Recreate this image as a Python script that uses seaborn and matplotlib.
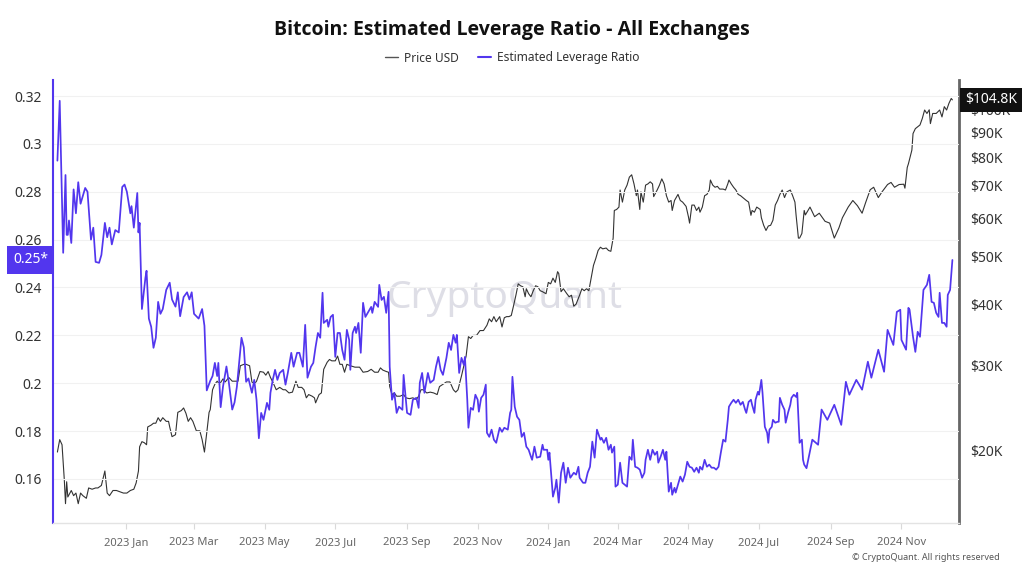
import numpy as np
import pandas as pd
import matplotlib
matplotlib.use("Agg")
import matplotlib.pyplot as plt
import matplotlib.dates as mdates
import matplotlib.transforms as mtransforms
from matplotlib.lines import Line2D
from matplotlib.ticker import FixedLocator, FuncFormatter, NullLocator
import seaborn as sns

# ---------------- data (days since 2023-01-01) ----------------
lev_day = [
    -59, -57, -54, -52, -51, -50, -49, -47, -45, -43,
    -41, -39, -35, -33, -30, -28, -26, -23, -21, -18,
    -16, -14, -12, -9, -6, -3, -1, 1, 4, 5,
    7, 10, 11, 12, 14, 17, 18, 20, 22, 24,
    26, 28, 30, 32, 35, 38, 40, 43, 45, 47,
    50, 53, 55, 57, 59, 63, 66, 68, 70, 73,
    75, 77, 79, 80, 82, 84, 87, 89, 92, 94,
    96, 100, 102, 104, 106, 109, 111, 113, 115, 117,
    119, 122, 124, 125, 127, 129, 131, 133, 136, 138,
    140, 143, 145, 148, 150, 153, 155, 157, 160, 162,
    164, 166, 168, 170, 171, 174, 175, 177, 179, 181,
    183, 185, 187, 189, 191, 193, 194, 196, 198, 199,
    201, 203, 205, 207, 209, 212, 213, 215, 218, 219,
    221, 223, 225, 227, 228, 230, 232, 234, 236, 239,
    240, 243, 246, 248, 251, 253, 254, 256, 258, 261,
    263, 266, 268, 270, 272, 274, 277, 279, 281, 283,
    285, 286, 288, 290, 292, 293, 295, 296, 298, 300,
    302, 304, 305, 307, 309, 311, 312, 314, 316, 318,
    320, 323, 325, 327, 330, 332, 333, 334, 336, 338,
    340, 342, 344, 346, 348, 350, 351, 353, 355, 358,
    360, 361, 364, 365, 366, 368, 369, 371, 372, 374,
    376, 378, 380, 382, 384, 387, 389, 391, 392, 395,
    397, 399, 401, 403, 405, 407, 410, 411, 413, 415,
    417, 419, 420, 422, 423, 425, 427, 429, 431, 433,
    435, 437, 438, 440, 442, 444, 446, 448, 449, 451,
    453, 455, 457, 459, 460, 462, 464, 466, 467, 469,
    471, 472, 474, 475, 477, 479, 481, 483, 485, 487,
    489, 491, 493, 495, 496, 498, 500, 502, 504, 506,
    508, 510, 512, 514, 516, 518, 520, 521, 523, 525,
    527, 529, 531, 533, 535, 536, 538, 540, 541, 543,
    544, 546, 547, 549, 550, 552, 554, 555, 556, 558,
    559, 561, 563, 564, 565, 567, 569, 570, 572, 574,
    575, 577, 579, 580, 582, 584, 585, 586, 588, 593,
    598, 601, 606, 612, 618, 622, 625, 631, 636, 641,
    644, 650, 655, 658, 663, 666, 669, 670, 674, 676,
    677, 680, 682, 684, 686, 689, 692, 694, 696, 698,
    700, 702, 703, 705, 707, 709, 710, 712, 714,
]
lev_val = [
    0.293, 0.318, 0.2545, 0.287, 0.262, 0.262, 0.268, 0.2586, 0.281, 0.271,
    0.284, 0.275, 0.2816, 0.280, 0.260, 0.265, 0.2507, 0.2503, 0.2536, 0.267,
    0.261, 0.265, 0.258, 0.264, 0.263, 0.282, 0.283, 0.280, 0.271, 0.274,
    0.265, 0.2795, 0.263, 0.267, 0.231, 0.244, 0.247, 0.227, 0.2236, 0.2148,
    0.219, 0.234, 0.229, 0.231, 0.239, 0.242, 0.235, 0.232, 0.238, 0.228,
    0.236, 0.238, 0.235, 0.238, 0.229, 0.227, 0.231, 0.224, 0.197, 0.201,
    0.203, 0.2085, 0.203, 0.2085, 0.190, 0.1985, 0.207, 0.2006, 0.189, 0.192,
    0.1985, 0.219, 0.215, 0.2006, 0.202, 0.196, 0.2014, 0.193, 0.177, 0.1876,
    0.1847, 0.1918, 0.1889, 0.196, 0.2014, 0.2056, 0.2014, 0.2043, 0.2056, 0.1994,
    0.2043, 0.2127, 0.2069, 0.2127, 0.2127, 0.2069, 0.2244, 0.2023, 0.2069, 0.2085,
    0.2152, 0.221, 0.219, 0.2378, 0.2252, 0.2265, 0.2236, 0.2277, 0.2286, 0.211,
    0.221, 0.221, 0.2139, 0.2098, 0.2223, 0.2181, 0.2056, 0.221, 0.2236, 0.221,
    0.2252, 0.2127, 0.2336, 0.2277, 0.2294, 0.2319, 0.2294, 0.234, 0.2319, 0.2411,
    0.2348, 0.2361, 0.2294, 0.2382, 0.2069, 0.1931, 0.196, 0.1876, 0.1902, 0.1889,
    0.2035, 0.1876, 0.1868, 0.1931, 0.1939, 0.1897, 0.2002, 0.2043, 0.196, 0.2043,
    0.2002, 0.2014, 0.2069, 0.211, 0.2056, 0.2035, 0.2106, 0.2169, 0.2139, 0.2202,
    0.2169, 0.2202, 0.2043, 0.2106, 0.2077, 0.211, 0.1931, 0.1814, 0.1897, 0.1889,
    0.1952, 0.1931, 0.1881, 0.1939, 0.1952, 0.1994, 0.1793, 0.1776, 0.1806, 0.1764,
    0.1751, 0.1814, 0.1797, 0.1814, 0.1806, 0.1876, 0.1889, 0.2027, 0.1902, 0.186,
    0.1847, 0.1776, 0.1793, 0.1735, 0.1722, 0.1693, 0.168, 0.1735, 0.1689, 0.1693,
    0.1743, 0.1722, 0.1722, 0.168, 0.171, 0.1584, 0.1526, 0.1563, 0.1597, 0.1501,
    0.1626, 0.1668, 0.1584, 0.1647, 0.1605, 0.1626, 0.1618, 0.1651, 0.1605, 0.1584,
    0.1584, 0.1626, 0.1651, 0.1756, 0.1689, 0.1806, 0.1764, 0.1772, 0.1751, 0.1772,
    0.1722, 0.1743, 0.171, 0.1735, 0.1568, 0.1576, 0.1668, 0.1584, 0.1576, 0.1568,
    0.1693, 0.168, 0.1764, 0.1651, 0.1647, 0.1639, 0.1605, 0.1626, 0.168, 0.1722,
    0.168, 0.1722, 0.1701, 0.1714, 0.1668, 0.1693, 0.1722, 0.168, 0.1714, 0.1547,
    0.1584, 0.1534, 0.1563, 0.1543, 0.1576, 0.161, 0.1589, 0.1618, 0.1672, 0.1651,
    0.1647, 0.163, 0.1647, 0.1626, 0.1651, 0.1639, 0.168, 0.1651, 0.166, 0.1647,
    0.1647, 0.1639, 0.1651, 0.171, 0.1764, 0.1756, 0.1847, 0.1902, 0.1918, 0.1931,
    0.1918, 0.1931, 0.191, 0.1922, 0.1889, 0.1876, 0.1922, 0.1931, 0.191, 0.1876,
    0.1931, 0.1964, 0.1952, 0.2014, 0.196, 0.1818, 0.1793, 0.1751, 0.1806, 0.1818,
    0.1847, 0.1835, 0.1839, 0.1839, 0.1939, 0.191, 0.1889, 0.1835, 0.1876, 0.191,
    0.1939, 0.1952, 0.1943, 0.196, 0.1751, 0.1764, 0.168, 0.166, 0.1645, 0.1764,
    0.1743, 0.189, 0.1847, 0.191, 0.1826, 0.2006, 0.1952, 0.2014, 0.1973, 0.209,
    0.2023, 0.214, 0.2048, 0.2223, 0.216, 0.2298, 0.2307, 0.2181, 0.214, 0.2315,
    0.2307, 0.2194, 0.2131, 0.2215, 0.2194, 0.239, 0.2411, 0.2453, 0.234, 0.2336,
    0.2294, 0.2277, 0.2378, 0.2252, 0.2252, 0.2236, 0.2369, 0.239, 0.2515,
]

price_day = [
    -59, -57, -55, -53, -52, -51, -50, -47, -45, -43,
    -41, -39, -37, -34, -32, -29, -26, -24, -21, -18,
    -16, -14, -11, -8, -5, -2, 1, 4, 7, 9,
    11, 12, 14, 16, 18, 19, 22, 24, 26, 28,
    30, 32, 35, 37, 38, 40, 43, 45, 48, 50,
    52, 54, 56, 58, 61, 64, 66, 68, 70, 72,
    73, 75, 77, 79, 81, 84, 86, 89, 92, 94,
    97, 99, 102, 104, 107, 109, 111, 113, 116, 119,
    121, 123, 125, 127, 130, 133, 136, 138, 141, 144,
    147, 149, 152, 154, 156, 158, 161, 163, 164, 167,
    169, 171, 174, 176, 178, 181, 183, 185, 187, 189,
    191, 194, 198, 202, 205, 209, 212, 215, 218, 220,
    222, 225, 227, 228, 230, 232, 234, 237, 240, 242,
    245, 248, 251, 253, 255, 257, 260, 263, 266, 269,
    271, 274, 277, 280, 283, 285, 287, 290, 292, 294,
    296, 298, 300, 303, 306, 309, 312, 314, 316, 318,
    320, 323, 325, 327, 329, 331, 333, 335, 337, 339,
    341, 343, 345, 346, 348, 350, 352, 354, 356, 358,
    360, 363, 365, 367, 369, 371, 373, 374, 376, 378,
    381, 383, 385, 387, 389, 392, 394, 396, 398, 400,
    402, 404, 406, 408, 410, 412, 415, 417, 419, 421,
    422, 424, 426, 427, 429, 431, 433, 435, 437, 439,
    441, 442, 444, 445, 447, 449, 451, 453, 455, 456,
    459, 461, 463, 465, 467, 469, 471, 472, 474, 477,
    479, 481, 484, 486, 487, 489, 491, 493, 495, 496,
    498, 500, 502, 504, 505, 507, 509, 511, 513, 516,
    518, 520, 521, 523, 525, 527, 529, 531, 533, 536,
    538, 540, 541, 543, 545, 548, 549, 551, 553, 555,
    557, 559, 561, 563, 565, 567, 569, 571, 574, 576,
    578, 579, 581, 582, 584, 586, 587, 591, 595, 599,
    604, 608, 612, 616, 619, 624, 628, 632, 636, 639,
    643, 646, 650, 653, 658, 661, 664, 668, 672, 673,
    675, 676, 679, 680, 682, 684, 686, 688, 690, 692,
    694, 695, 697, 700, 703, 705, 707, 709, 711, 713,
    714,
]
price_k = [
    19.9, 21.1, 20.6, 17.4, 15.6, 17.3, 16.1, 16.6, 16.2, 16.4,
    15.6, 16.4, 16.2, 16.0, 16.8, 16.7, 16.8, 16.8, 17.0, 18.2,
    16.4, 16.2, 16.6, 16.6, 16.5, 16.4, 16.4, 16.6, 16.7, 17.2,
    18.2, 20.4, 20.9, 20.8, 20.6, 22.4, 22.6, 22.8, 22.8, 23.4,
    23.0, 23.4, 23.0, 23.0, 22.4, 21.4, 21.6, 24.0, 24.2, 24.5,
    23.9, 23.0, 23.4, 23.0, 22.0, 22.0, 21.1, 19.9, 21.8, 24.0,
    24.3, 26.7, 27.4, 27.8, 27.4, 28.1, 27.7, 28.3, 27.8, 27.8,
    27.8, 29.9, 30.1, 30.1, 29.9, 27.7, 27.4, 27.8, 29.1, 29.0,
    28.6, 29.1, 28.3, 27.7, 26.7, 27.0, 26.7, 26.7, 26.3, 26.4,
    27.8, 27.0, 27.0, 26.7, 25.7, 26.1, 25.9, 25.7, 25.1, 26.1,
    26.3, 29.4, 30.4, 30.8, 30.6, 30.6, 31.3, 30.1, 30.1, 29.0,
    30.1, 29.9, 29.7, 29.7, 29.0, 29.1, 29.4, 29.0, 29.0, 29.6,
    29.3, 29.1, 29.0, 27.1, 26.1, 26.3, 25.9, 25.9, 26.1, 25.7,
    25.6, 25.7, 25.5, 25.9, 26.7, 26.7, 26.3, 26.4, 26.3, 26.1,
    27.1, 27.4, 27.7, 27.7, 26.7, 26.4, 26.7, 28.5, 29.9, 31.3,
    34.3, 34.0, 34.5, 34.5, 35.3, 35.3, 36.2, 37.3, 36.8, 37.7,
    36.8, 37.7, 35.9, 37.5, 37.7, 37.7, 37.9, 39.7, 41.7, 44.0,
    43.6, 43.4, 41.4, 43.0, 42.0, 41.4, 42.6, 43.6, 43.4, 42.6,
    42.4, 42.0, 44.3, 44.0, 45.2, 44.3, 46.6, 46.2, 42.4, 43.0,
    42.0, 41.4, 41.7, 39.6, 40.0, 41.7, 43.0, 42.6, 43.0, 42.6,
    45.2, 48.0, 49.6, 51.5, 52.3, 51.9, 52.1, 51.5, 51.3, 54.6,
    62.2, 62.5, 63.2, 68.5, 64.7, 68.5, 70.1, 72.8, 73.6, 70.5,
    66.7, 68.5, 62.5, 67.9, 64.7, 70.1, 70.5, 71.2, 70.5, 66.4,
    68.5, 70.1, 72.2, 70.5, 66.7, 64.7, 65.2, 62.2, 65.2, 67.1,
    65.2, 64.7, 63.4, 60.4, 58.6, 63.8, 63.8, 62.2, 63.2, 61.7,
    63.2, 66.7, 67.1, 68.5, 71.8, 70.1, 69.4, 69.7, 68.8, 68.8,
    68.5, 70.5, 71.8, 70.5, 69.4, 68.5, 67.1, 66.7, 66.1, 65.2,
    64.7, 60.8, 62.2, 61.7, 63.2, 62.5, 60.1, 58.0, 56.6, 57.8,
    58.0, 59.4, 63.8, 65.2, 67.1, 68.5, 66.1, 67.9, 68.5, 66.7,
    64.7, 60.8, 54.6, 54.6, 55.8, 62.2, 60.9, 63.2, 60.4, 61.4,
    59.1, 58.6, 54.6, 57.3, 60.1, 63.2, 65.2, 63.6, 61.4, 64.5,
    68.6, 69.4, 66.1, 67.8, 70.3, 71.0, 69.4, 70.3, 70.4, 69.1,
    76.2, 77.5, 82.7, 89.4, 91.5, 92.3, 93.1, 96.0, 99.9, 98.3,
    100.0, 93.7, 98.3, 98.3, 99.9, 96.7, 101.5, 99.9, 103.1, 105.5,
    104.8,
]

left_ticks = [0.16, 0.18, 0.20, 0.22, 0.24, 0.26, 0.28, 0.30, 0.32]
right_ticks_k = [20, 30, 40, 50, 60, 70, 80, 90, 100]
x_tick_dates = ["2023-01-01", "2023-03-01", "2023-05-01", "2023-07-01",
                "2023-09-01", "2023-11-01", "2024-01-01", "2024-03-01",
                "2024-05-01", "2024-07-01", "2024-09-01", "2024-11-01"]
legend_labels = ["Price USD", "Estimated Leverage Ratio"]
title = "Bitcoin: Estimated Leverage Ratio - All Exchanges"
last_lev_label = "0.25*"
last_price_label = "$104.8K"

assert len(lev_day) == len(lev_val), (len(lev_day), len(lev_val))
assert len(price_day) == len(price_k), (len(price_day), len(price_k))

# ---------------- style ----------------
sns.set_style("white")
plt.rcParams["font.family"] = ["Noto Sans", "DejaVu Sans"]

BLUE = "#5236EE"
BASE = pd.Timestamp("2023-01-01")

lev_df = pd.DataFrame({"date": BASE + pd.to_timedelta(lev_day, unit="D"),
                       "value": lev_val})
price_df = pd.DataFrame({"date": BASE + pd.to_timedelta(price_day, unit="D"),
                         "price": np.array(price_k) * 1000.0})

fig = plt.figure(figsize=(10.24, 5.76), dpi=100)
fig.patch.set_facecolor("white")
ax = fig.add_axes([53 / 1024, 1 - 523 / 576, (959 - 53) / 1024, (523 - 80) / 576])
ax2 = ax.twinx()
ax.set_zorder(ax2.get_zorder() + 1)
ax.patch.set_visible(False)

# price on right (log)
sns.lineplot(data=price_df, x="date", y="price", ax=ax2, color="#333333",
             lw=0.8, estimator=None, legend=False)
# leverage on left
sns.lineplot(data=lev_df, x="date", y="value", ax=ax, color=BLUE,
             lw=1.25, estimator=None, legend=False)

xmin = BASE - pd.Timedelta(days=62.8)
xmax = BASE + pd.Timedelta(days=719.7)
ax.set_xlim(xmin, xmax)
ax2.set_xlim(xmin, xmax)

# left axis
ax.set_ylim(0.1416, 0.3267)
ax.yaxis.set_major_locator(FixedLocator(left_ticks))
ax.yaxis.set_major_formatter(FuncFormatter(lambda v, p: f"{round(v, 2):g}"))
ax.grid(axis="y", color="#f1f1f1", lw=0.8)
ax.grid(axis="x", visible=False)
ax.tick_params(axis="y", length=0, pad=8, labelsize=10, labelcolor="#333333")
ax.set_xlabel("")
ax.set_ylabel("")

# right axis
ax2.set_yscale("log")
ax2.set_ylim(14240, 115100)
ax2.yaxis.set_major_locator(FixedLocator([v * 1000 for v in right_ticks_k]))
ax2.yaxis.set_major_formatter(FuncFormatter(lambda v, p: f"${v/1000:.0f}K"))
ax2.yaxis.set_minor_locator(NullLocator())
ax2.tick_params(axis="y", length=0, pad=8, labelsize=10, labelcolor="#333333")
ax2.set_ylabel("")
ax2.grid(False)

# x axis
ax.xaxis.set_major_locator(FixedLocator(mdates.date2num(pd.to_datetime(x_tick_dates))))
ax.xaxis.set_major_formatter(mdates.DateFormatter("%Y %b"))
ax.tick_params(axis="x", bottom=True, length=4, width=0.8, color="#d9d9d9",
               labelsize=8, labelcolor="#666666", pad=6)
ax2.tick_params(axis="x", bottom=False, labelbottom=False)

# spines
for s in ["top", "right"]:
    ax.spines[s].set_visible(False)
ax.spines["left"].set_color(BLUE)
ax.spines["left"].set_linewidth(1.5)
ax.spines["bottom"].set_color("#e3e3e3")
ax.spines["bottom"].set_linewidth(1.0)
for s in ["top", "left", "bottom"]:
    ax2.spines[s].set_visible(False)
ax2.spines["right"].set_color("#666666")
ax2.spines["right"].set_linewidth(2.0)

# watermark
ax2.text(0.499, 0.508, "CryptoQuant", transform=ax2.transAxes, ha="center",
         va="center", fontsize=28, color="#dedee6", zorder=0)

# last value labels
tr_left = mtransforms.blended_transform_factory(ax.transAxes, ax.transData)
ax.text(0.0, lev_val[-1], last_lev_label, transform=tr_left
        + mtransforms.ScaledTranslation(-5 / 100, 0, fig.dpi_scale_trans),
        ha="right", va="center", fontsize=10, color="white", zorder=10,
        bbox=dict(boxstyle="square,pad=0.45", fc=BLUE, ec="none"),
        clip_on=False)
tr_right = mtransforms.blended_transform_factory(ax2.transAxes, ax2.transData)
ax2.text(1.0, price_k[-1] * 1000, last_price_label, transform=tr_right
         + mtransforms.ScaledTranslation(6 / 100, 0, fig.dpi_scale_trans),
         ha="left", va="center", fontsize=10, color="white", zorder=10,
         bbox=dict(boxstyle="square,pad=0.35", fc="#111111", ec="none"),
         clip_on=False)

# title & legend
fig.text(0.5, 1 - 30 / 576, title, ha="center", va="center", fontsize=14,
         fontweight="bold", family=["Open Sans", "DejaVu Sans"], color="#111111")
handles = [Line2D([], [], color="#555555", lw=1.0),
           Line2D([], [], color=BLUE, lw=1.5)]
fig.legend(handles=handles, labels=legend_labels, loc="center",
           bbox_to_anchor=(0.5, 1 - 58 / 576), ncol=2, frameon=False,
           fontsize=8.6, handlelength=1.1, columnspacing=1.6, handletextpad=0.5,
           labelcolor="#333333")

fig.text(1000 / 1024, 1 - 558 / 576, "\u00a9 CryptoQuant. All rights reserved",
         ha="right", va="center", fontsize=6.5, color="#555555")

fig.savefig("out.png", dpi=100, facecolor="white")
